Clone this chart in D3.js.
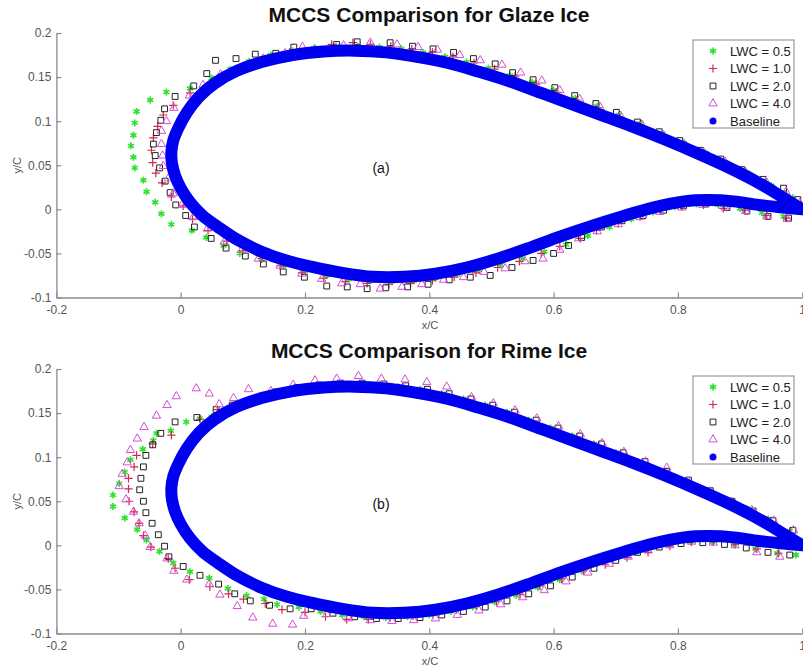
<!DOCTYPE html>
<html>
<head>
<meta charset="utf-8">
<script src="https://cdn.jsdelivr.net/npm/d3@7"></script>
<style>
  body { margin: 0; background: #fff; }
  text { font-family: "Liberation Sans", Arial, sans-serif; }
</style>
</head>
<body>
<div id="chart"></div>
<script>
// ---- data (x/C, y/C) ----
const xTicks = [-0.2, 0, 0.2, 0.4, 0.6, 0.8, 1];
const yTicks = [-0.1, -0.05, 0, 0.05, 0.1, 0.15, 0.2];
const legendLabels = ["LWC = 0.5", "LWC = 1.0", "LWC = 2.0", "LWC = 4.0", "Baseline"];
const titles = ["MCCS Comparison for Glaze Ice", "MCCS Comparison for Rime Ice"];
const tags = ["(a)", "(b)"];

// clean airfoil: upper surface TE -> LE, then lower surface LE -> TE
const baseline = [
  [1.0,0.0],[0.97,0.013],[0.93,0.03],[0.88,0.048],[0.83,0.064],[0.78,0.079],[0.73,0.093],[0.68,0.106],
  [0.63,0.119],[0.58,0.132],[0.53,0.145],[0.48,0.156],[0.43,0.166],[0.38,0.173],[0.33,0.178],[0.28,0.180],
  [0.23,0.179],[0.18,0.175],[0.13,0.167],[0.09,0.157],[0.055,0.143],[0.03,0.128],[0.01,0.11],[-0.004,0.092],
  [-0.012,0.078],[-0.015,0.065],[-0.014,0.052],[-0.009,0.038],[0.0,0.024],[0.015,0.008],[0.035,-0.007],
  [0.06,-0.02],[0.09,-0.034],[0.13,-0.048],[0.17,-0.058],[0.21,-0.065],[0.26,-0.072],[0.31,-0.0765],
  [0.36,-0.0765],[0.41,-0.073],[0.46,-0.066],[0.51,-0.056],[0.56,-0.044],[0.61,-0.031],[0.66,-0.019],
  [0.71,-0.008],[0.76,0.002],[0.81,0.009],[0.85,0.0105],[0.89,0.009],[0.93,0.005],[0.97,0.002],[1.0,0.0]
];

// glaze ice
const glaze05 = [
  [0.985,0.013],[0.95,0.027],[0.915,0.040],[0.88,0.052],[0.845,0.064],[0.81,0.075],[0.775,0.086],[0.74,0.097],
  [0.705,0.107],[0.67,0.117],[0.635,0.126],[0.60,0.135],[0.565,0.144],[0.53,0.152],[0.495,0.160],[0.46,0.167],
  [0.425,0.173],[0.39,0.178],[0.355,0.182],[0.32,0.184],[0.285,0.185],[0.25,0.185],[0.215,0.183],[0.18,0.180],
  [0.145,0.175],[0.11,0.168],[0.08,0.159],[0.05,0.149],[0.015,0.137],[-0.023,0.133],[-0.049,0.124],
  [-0.071,0.111],[-0.074,0.098],[-0.076,0.084],[-0.080,0.072],[-0.076,0.059],[-0.074,0.047],[-0.060,0.033],
  [-0.055,0.020],[-0.041,0.008],[-0.031,-0.005],[-0.015,-0.017],[0.018,-0.024],[0.041,-0.032],[0.069,-0.041],
  [0.095,-0.050],[0.13,-0.057],[0.165,-0.064],[0.2,-0.070],[0.235,-0.075],[0.27,-0.079],[0.305,-0.081],
  [0.34,-0.082],[0.375,-0.081],[0.41,-0.078],[0.445,-0.074],[0.48,-0.069],[0.515,-0.063],[0.55,-0.056],
  [0.585,-0.048],[0.62,-0.040],[0.655,-0.030],[0.69,-0.020],[0.725,-0.011],[0.76,-0.003],[0.795,0.003],
  [0.83,0.006],[0.865,0.005],[0.9,0.001],[0.935,-0.004],[0.97,-0.008]
];
const glaze10 = [
  [0.975,0.016],[0.94,0.030],[0.905,0.042],[0.872,0.053],[0.838,0.064],[0.805,0.074],[0.772,0.084],[0.738,0.095],
  [0.705,0.105],[0.672,0.115],[0.638,0.124],[0.605,0.133],[0.572,0.142],[0.538,0.151],[0.505,0.159],[0.472,0.166],
  [0.438,0.173],[0.405,0.178],[0.372,0.182],[0.338,0.185],[0.305,0.187],[0.277,0.189],[0.243,0.187],[0.216,0.182],
  [0.175,0.178],[0.14,0.171],[0.106,0.162],[0.074,0.152],[0.042,0.140],[0.015,0.132],[-0.012,0.118],
  [-0.028,0.107],[-0.037,0.094],[-0.044,0.081],[-0.047,0.067],[-0.045,0.053],[-0.040,0.041],[-0.030,0.030],
  [-0.015,0.014],[0.004,0.004],[0.019,-0.011],[0.044,-0.024],[0.074,-0.036],[0.100,-0.047],[0.13,-0.056],
  [0.16,-0.064],[0.195,-0.072],[0.23,-0.078],[0.265,-0.082],[0.30,-0.084],[0.335,-0.085],[0.37,-0.084],
  [0.405,-0.081],[0.44,-0.077],[0.475,-0.072],[0.51,-0.066],[0.545,-0.059],[0.58,-0.050],[0.61,-0.042],
  [0.643,-0.033],[0.669,-0.024],[0.704,-0.016],[0.739,-0.008],[0.771,-0.001],[0.806,0.003],[0.841,0.005],
  [0.873,0.001],[0.908,-0.001],[0.943,-0.007],[0.975,-0.010]
];
const glaze20 = [
  [0.993,0.011],[0.970,0.024],[0.937,0.034],[0.903,0.045],[0.869,0.057],[0.836,0.067],[0.803,0.078],[0.770,0.088],
  [0.735,0.099],[0.701,0.110],[0.668,0.120],[0.634,0.129],[0.602,0.138],[0.567,0.147],[0.534,0.155],[0.506,0.165],
  [0.471,0.171],[0.439,0.178],[0.406,0.182],[0.373,0.185],[0.337,0.189],[0.284,0.190],[0.251,0.187],[0.182,0.184],
  [0.153,0.177],[0.120,0.176],[0.089,0.171],[0.056,0.169],[0.042,0.154],[0.021,0.140],[-0.009,0.128],
  [-0.026,0.114],[-0.032,0.101],[-0.039,0.087],[-0.044,0.074],[-0.041,0.061],[-0.034,0.047],[-0.025,0.032],
  [-0.017,0.019],[-0.008,0.005],[0.008,-0.007],[0.022,-0.020],[0.049,-0.033],[0.073,-0.044],[0.104,-0.053],
  [0.133,-0.062],[0.165,-0.071],[0.199,-0.077],[0.235,-0.087],[0.268,-0.088],[0.300,-0.090],[0.330,-0.089],
  [0.365,-0.088],[0.398,-0.085],[0.432,-0.080],[0.466,-0.077],[0.498,-0.075],[0.533,-0.066],[0.567,-0.058],
  [0.600,-0.050],[0.624,-0.041],[0.645,-0.032],[0.677,-0.020],[0.710,-0.013],[0.744,-0.007],[0.777,-0.001],
  [0.809,0.004],[0.845,0.006],[0.879,0.002],[0.911,-0.002],[0.945,-0.008],[0.978,-0.010]
];
const glaze40 = [
  [0.996,0.007],[0.974,0.020],[0.943,0.030],[0.909,0.042],[0.876,0.054],[0.842,0.064],[0.810,0.074],[0.776,0.084],
  [0.742,0.096],[0.708,0.106],[0.675,0.116],[0.642,0.125],[0.610,0.135],[0.581,0.146],[0.547,0.155],[0.517,0.164],
  [0.482,0.169],[0.449,0.175],[0.413,0.181],[0.382,0.184],[0.348,0.187],[0.305,0.189],[0.262,0.186],[0.196,0.184],
  [0.168,0.177],[0.133,0.171],[0.101,0.162],[0.064,0.153],[0.036,0.141],[0.014,0.129],[-0.011,0.115],
  [-0.023,0.100],[-0.031,0.089],[-0.031,0.074],[-0.029,0.061],[-0.028,0.049],[-0.020,0.035],[-0.012,0.018],
  [0.002,0.005],[0.020,-0.009],[0.043,-0.022],[0.070,-0.037],[0.098,-0.046],[0.125,-0.056],[0.160,-0.064],
  [0.195,-0.073],[0.227,-0.079],[0.259,-0.084],[0.289,-0.085],[0.321,-0.090],[0.356,-0.088],[0.388,-0.085],
  [0.423,-0.080],[0.455,-0.077],[0.488,-0.071],[0.522,-0.067],[0.554,-0.059],[0.583,-0.056],[0.610,-0.046],
  [0.640,-0.033],[0.670,-0.025],[0.704,-0.017],[0.739,-0.009],[0.771,-0.003],[0.806,0.002],[0.840,0.005],
  [0.876,0.002],[0.909,-0.002],[0.943,-0.008],[0.976,-0.011]
];

// rime ice
const rime05 = [
  [0.98,0.016],[0.945,0.030],[0.91,0.042],[0.875,0.053],[0.84,0.064],[0.805,0.074],[0.77,0.085],[0.735,0.095],
  [0.70,0.105],[0.665,0.115],[0.63,0.124],[0.595,0.133],[0.56,0.142],[0.525,0.151],[0.49,0.159],[0.455,0.166],
  [0.42,0.172],[0.385,0.177],[0.35,0.180],[0.315,0.182],[0.28,0.182],[0.245,0.181],[0.21,0.179],[0.175,0.176],
  [0.14,0.170],[0.105,0.164],[0.090,0.161],[0.070,0.153],[0.050,0.146],[0.031,0.144],[0.009,0.140],
  [-0.016,0.130],[-0.039,0.127],[-0.044,0.119],[-0.061,0.109],[-0.081,0.097],[-0.090,0.083],[-0.099,0.070],
  [-0.109,0.057],[-0.109,0.044],[-0.090,0.031],[-0.070,0.018],[-0.055,0.006],[-0.034,-0.007],[-0.012,-0.020],
  [0.015,-0.030],[0.046,-0.037],[0.076,-0.049],[0.106,-0.057],[0.134,-0.061],[0.155,-0.067],[0.19,-0.070],
  [0.225,-0.075],[0.26,-0.079],[0.295,-0.081],[0.33,-0.082],[0.365,-0.081],[0.40,-0.079],[0.435,-0.075],
  [0.47,-0.070],[0.505,-0.064],[0.54,-0.057],[0.575,-0.048],[0.61,-0.039],[0.645,-0.029],[0.68,-0.019],
  [0.715,-0.011],[0.75,-0.004],[0.785,0.001],[0.82,0.004],[0.855,0.004],[0.89,0.001],[0.925,-0.004],
  [0.96,-0.009],[0.99,-0.011]
];
const rime10 = [
  [0.98,0.014],[0.945,0.028],[0.91,0.040],[0.875,0.051],[0.84,0.062],[0.805,0.072],[0.77,0.083],[0.735,0.093],
  [0.70,0.103],[0.665,0.113],[0.63,0.122],[0.595,0.131],[0.56,0.140],[0.525,0.149],[0.49,0.157],[0.455,0.164],
  [0.42,0.170],[0.385,0.175],[0.35,0.178],[0.315,0.180],[0.28,0.181],[0.245,0.180],[0.21,0.177],[0.175,0.174],
  [0.14,0.168],[0.114,0.165],[0.059,0.154],[0.031,0.143],[-0.015,0.125],[-0.045,0.115],[-0.071,0.102],
  [-0.075,0.089],[-0.084,0.076],[-0.084,0.064],[-0.083,0.050],[-0.075,0.038],[-0.067,0.025],[-0.060,0.011],
  [-0.048,-0.002],[-0.020,-0.015],[-0.009,-0.026],[0.014,-0.039],[0.047,-0.047],[0.077,-0.055],[0.101,-0.061],
  [0.136,-0.066],[0.163,-0.073],[0.200,-0.076],[0.233,-0.081],[0.267,-0.084],[0.302,-0.084],[0.337,-0.082],
  [0.374,-0.080],[0.406,-0.078],[0.444,-0.073],[0.476,-0.068],[0.508,-0.064],[0.546,-0.056],[0.578,-0.046],
  [0.613,-0.038],[0.648,-0.029],[0.683,-0.022],[0.718,-0.014],[0.752,-0.008],[0.787,-0.001],[0.822,0.004],
  [0.857,0.004],[0.892,0.001],[0.927,-0.004],[0.962,-0.009]
];
const rime20 = [
  [0.985,0.017],[0.953,0.028],[0.921,0.039],[0.887,0.050],[0.852,0.062],[0.817,0.074],[0.782,0.084],[0.747,0.095],
  [0.712,0.105],[0.677,0.115],[0.642,0.124],[0.607,0.133],[0.572,0.142],[0.537,0.151],[0.502,0.159],[0.467,0.166],
  [0.432,0.172],[0.397,0.177],[0.362,0.181],[0.327,0.183],[0.292,0.184],[0.257,0.184],[0.222,0.182],[0.187,0.179],
  [0.152,0.174],[0.114,0.165],[0.083,0.159],[0.057,0.154],[0.026,0.145],[-0.009,0.140],[-0.032,0.127],
  [-0.045,0.114],[-0.056,0.102],[-0.060,0.089],[-0.064,0.076],[-0.066,0.063],[-0.060,0.050],[-0.056,0.037],
  [-0.046,0.025],[-0.036,0.012],[-0.026,-0.001],[-0.019,-0.013],[0.004,-0.024],[0.031,-0.034],[0.061,-0.044],
  [0.087,-0.055],[0.112,-0.063],[0.143,-0.068],[0.176,-0.072],[0.21,-0.072],[0.245,-0.077],[0.28,-0.081],
  [0.315,-0.083],[0.35,-0.083],[0.385,-0.082],[0.42,-0.079],[0.455,-0.075],[0.49,-0.070],[0.525,-0.063],
  [0.56,-0.055],[0.595,-0.046],[0.63,-0.036],[0.665,-0.026],[0.70,-0.017],[0.735,-0.008],[0.77,-0.002],
  [0.805,0.002],[0.84,0.003],[0.875,0.001],[0.91,-0.003],[0.945,-0.008],[0.98,-0.011]
];
const rime40 = [
  [0.986,0.017],[0.954,0.028],[0.919,0.040],[0.887,0.049],[0.852,0.061],[0.817,0.072],[0.782,0.088],[0.748,0.095],
  [0.713,0.106],[0.678,0.116],[0.643,0.126],[0.608,0.135],[0.573,0.144],[0.538,0.153],[0.503,0.161],[0.468,0.168],
  [0.428,0.180],[0.396,0.185],[0.361,0.188],[0.323,0.189],[0.286,0.192],[0.251,0.189],[0.216,0.187],[0.181,0.182],
  [0.145,0.175],[0.109,0.177],[0.085,0.167],[0.062,0.160],[0.046,0.172],[0.025,0.178],[-0.007,0.169],
  [-0.022,0.159],[-0.039,0.147],[-0.059,0.134],[-0.070,0.121],[-0.081,0.108],[-0.086,0.094],[-0.094,0.081],
  [-0.099,0.067],[-0.088,0.052],[-0.076,0.038],[-0.067,0.025],[-0.057,0.011],[-0.049,-0.002],[-0.022,-0.015],
  [-0.011,-0.029],[0.010,-0.039],[0.046,-0.044],[0.063,-0.056],[0.091,-0.069],[0.116,-0.082],[0.148,-0.089],
  [0.180,-0.090],[0.198,-0.080],[0.235,-0.078],[0.27,-0.083],[0.305,-0.085],[0.34,-0.086],[0.375,-0.085],
  [0.41,-0.083],[0.445,-0.079],[0.48,-0.074],[0.515,-0.067],[0.55,-0.059],[0.585,-0.051],[0.62,-0.041],
  [0.655,-0.031],[0.69,-0.021],[0.72,-0.013],[0.752,-0.006],[0.787,0.0],[0.822,0.004],[0.857,0.003],
  [0.892,0.0],[0.927,-0.008],[0.964,-0.013]
];

const panels = [
  { top: 33, title: titles[0], tag: tags[0], series: [glaze05, glaze10, glaze20, glaze40] },
  { top: 369, title: titles[1], tag: tags[1], series: [rime05, rime10, rime20, rime40] }
];

// ---- styles ----
const markerStyles = [
  { type: d3.symbolAsterisk, size: 34, stroke: "#2fe02f", width: 1.6, fill: "none" },
  { type: d3.symbolPlus, size: 24, stroke: "#cf2a48", width: 1.2, fill: "none" },
  { type: d3.symbolSquare, size: 34, stroke: "#222", width: 1, fill: "none" },
  { type: d3.symbolTriangle, size: 30, stroke: "#d24fd2", width: 1, fill: "none" }
];

const W = 803, H = 667;
const svg = d3.select("#chart").append("svg").attr("width", W).attr("height", H);

const x = d3.scaleLinear().domain([-0.2, 1]).range([56.4, 802.2]);
const plotH = 264.5;

panels.forEach(p => {
  const y = d3.scaleLinear().domain([-0.1, 0.2]).range([p.top + plotH, p.top]);
  const g = svg.append("g");

  // title
  g.append("text")
    .attr("x", 429).attr("y", p.top - 11)
    .attr("text-anchor", "middle")
    .attr("font-size", 21).attr("font-weight", "bold").attr("fill", "#111")
    .text(p.title);

  // axes
  const yAxis = g.append("g").attr("transform", `translate(${x(-0.2)},0)`)
    .call(d3.axisLeft(y).tickValues(yTicks).tickFormat(d => String(d)).tickSizeInner(-5).tickSizeOuter(0).tickPadding(5));
  const xAxis = g.append("g").attr("transform", `translate(0,${y(-0.1)})`)
    .call(d3.axisBottom(x).tickValues(xTicks).tickFormat(d => String(d)).tickSizeInner(-5).tickSizeOuter(0).tickPadding(8));
  [yAxis, xAxis].forEach(a => {
    a.select(".domain").attr("stroke", "#8a8a8a").attr("stroke-width", 1.3);
    a.selectAll(".tick line").attr("stroke", "#8a8a8a").attr("stroke-width", 1.2);
    a.selectAll(".tick text").attr("fill", "#555").attr("font-size", 12)
      .style("font-family", "'Liberation Sans', Arial, sans-serif");
  });

  g.append("text").attr("x", 430).attr("y", y(-0.1) + 31)
    .attr("text-anchor", "middle").attr("font-size", 11).attr("fill", "#555").text("x/C");
  g.append("text").attr("transform", `translate(21,${y(0.05)}) rotate(-90)`)
    .attr("text-anchor", "middle").attr("font-size", 11).attr("fill", "#555").text("y/C");

  // markers
  p.series.forEach((data, i) => {
    const st = markerStyles[i];
    g.append("g").selectAll("path").data(data).join("path")
      .attr("transform", d => `translate(${x(d[0])},${y(d[1])})`)
      .attr("d", d3.symbol().type(st.type).size(st.size))
      .attr("fill", st.fill).attr("stroke", st.stroke).attr("stroke-width", st.width);
  });

  // baseline airfoil, drawn on top
  g.append("path").datum(baseline)
    .attr("d", d3.line().x(d => x(d[0])).y(d => y(d[1])).curve(d3.curveCatmullRom))
    .attr("fill", "none").attr("stroke", "#0000f0").attr("stroke-width", 12)
    .attr("stroke-linejoin", "round").attr("stroke-linecap", "round");

  g.append("text").attr("x", 381).attr("y", y(0.045))
    .attr("text-anchor", "middle").attr("dominant-baseline", "middle")
    .attr("font-size", 14).attr("fill", "#111").text(p.tag);

  // legend
  const lg = g.append("g").attr("transform", `translate(693,${p.top + 7})`);
  lg.append("rect").attr("width", 101).attr("height", 88)
    .attr("fill", "#fff").attr("stroke", "#999").attr("stroke-width", 1.2);
  legendLabels.forEach((lab, i) => {
    const ly = 11 + i * 17.5;
    if (i < 4) {
      const st = markerStyles[i];
      lg.append("path").attr("transform", `translate(20,${ly})`)
        .attr("d", d3.symbol().type(st.type).size(st.size))
        .attr("fill", st.fill).attr("stroke", st.stroke).attr("stroke-width", st.width);
    } else {
      lg.append("circle").attr("cx", 20).attr("cy", ly).attr("r", 3.5).attr("fill", "#0000f0");
    }
    lg.append("text").attr("x", 37).attr("y", ly).attr("dy", "0.35em")
      .attr("font-size", 13).attr("fill", "#222").text(lab);
  });
});
</script>
</body>
</html>
